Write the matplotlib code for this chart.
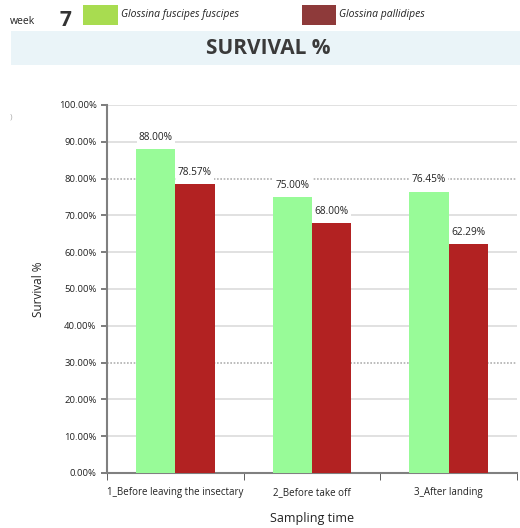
import matplotlib
matplotlib.use("Agg")
import matplotlib.pyplot as plt
import numpy as np
from matplotlib.patches import Rectangle

categories = ["1_Before leaving the insectary", "2_Before take off", "3_After landing"]
series_names = ["Glossina fuscipes fuscipes", "Glossina pallidipes"]
fuscipes = [88.00, 75.00, 76.45]
pallidipes = [78.57, 68.00, 62.29]
yticks = [0, 10, 20, 30, 40, 50, 60, 70, 80, 90, 100]

plt.rcParams['font.family'] = ['Open Sans', 'DejaVu Sans']

fig = plt.figure(figsize=(5.2, 5.28), dpi=100)
fig.patch.set_facecolor("white")

# header band
fig.patches.append(Rectangle((11/520, 1-65/528), 509/520, 34/528,
                             transform=fig.transFigure, facecolor="#eaf4f8",
                             edgecolor="none", zorder=0))
fig.text(268/520, 1-48/528, "SURVIVAL %", ha="center", va="center",
         fontsize=15, fontweight="bold", color="#3a3a3a")
fig.text(10/520, 1-22/528, "week", ha="left", va="center", fontsize=7.5, color="#222222")
fig.text(59/520, 1-20/528, "7", ha="left", va="center", fontsize=15, fontweight="bold", color="#333333")
fig.patches.append(Rectangle((83/520, 1-25/528), 35/520, 20/528, transform=fig.transFigure,
                             facecolor="#a8dc50", edgecolor="none"))
fig.text(121/520, 1-15/528, series_names[0], ha="left", va="center", fontsize=7.5,
         style="italic", color="#222222")
fig.patches.append(Rectangle((302/520, 1-25/528), 34/520, 20/528, transform=fig.transFigure,
                             facecolor="#8e3a3a", edgecolor="none"))
fig.text(339/520, 1-15/528, series_names[1], ha="left", va="center", fontsize=7.5,
         style="italic", color="#222222")
fig.text(10/520, 1-117/528, ")", ha="left", va="center", fontsize=6, color="#aaaaaa")

ax = fig.add_axes([107/520, 55/528, 410/520, 368/528])
x = np.arange(len(categories))
w = 0.287
ax.bar(x - w/2, fuscipes, width=w, color="#98fb98", zorder=3)
ax.bar(x + w/2, pallidipes, width=w, color="#b22222", zorder=3)

for xi, v in zip(x - w/2, fuscipes):
    ax.annotate(f"{v:.2f}%", (xi, v), xytext=(0, 4.5), textcoords="offset points",
                ha="center", va="bottom", fontsize=7.3, color="#222222", zorder=4,
                bbox=dict(facecolor="white", edgecolor="none", pad=1.5))
for xi, v in zip(x + w/2, pallidipes):
    ax.annotate(f"{v:.2f}%", (xi, v), xytext=(0, 4.5), textcoords="offset points",
                ha="center", va="bottom", fontsize=7.3, color="#222222", zorder=4,
                bbox=dict(facecolor="white", edgecolor="none", pad=1.5))

ax.set_xlim(-0.5, len(categories) - 0.5)
ax.set_ylim(0, 100)
ax.set_yticks(yticks)
ax.set_yticklabels([f"{t:.2f}%" for t in yticks], fontsize=6.8, color="#222222")
for t in yticks[1:]:
    ls = (0, (1, 1)) if t in (30, 80) else "-"
    col = "#b0b0b0" if t in (30, 80) else "#dcdcdc"
    ax.axhline(t, color=col, lw=1.2, ls=ls, zorder=1)

ax.set_xticks(x)
ax.set_xticklabels(categories, fontsize=7, color="#222222")
ax.tick_params(axis="x", length=0, pad=10)
ax.set_xticks(np.arange(len(categories) + 1) - 0.5, minor=True)
ax.tick_params(axis="x", which="minor", length=5, direction="out", color="#444444")
ax.tick_params(axis="y", length=4, direction="out", color="#666666", width=1.2)

ax.spines["top"].set_visible(False)
ax.spines["right"].set_visible(False)
ax.spines["left"].set_color("#808080")
ax.spines["left"].set_linewidth(1.5)
ax.spines["bottom"].set_color("#808080")
ax.spines["bottom"].set_linewidth(1.5)

ax.set_ylabel("Survival %", fontsize=8.5, color="#222222", labelpad=10)
ax.set_xlabel("Sampling time", fontsize=9, color="#222222", labelpad=10)

fig.savefig("out.png", dpi=100)
